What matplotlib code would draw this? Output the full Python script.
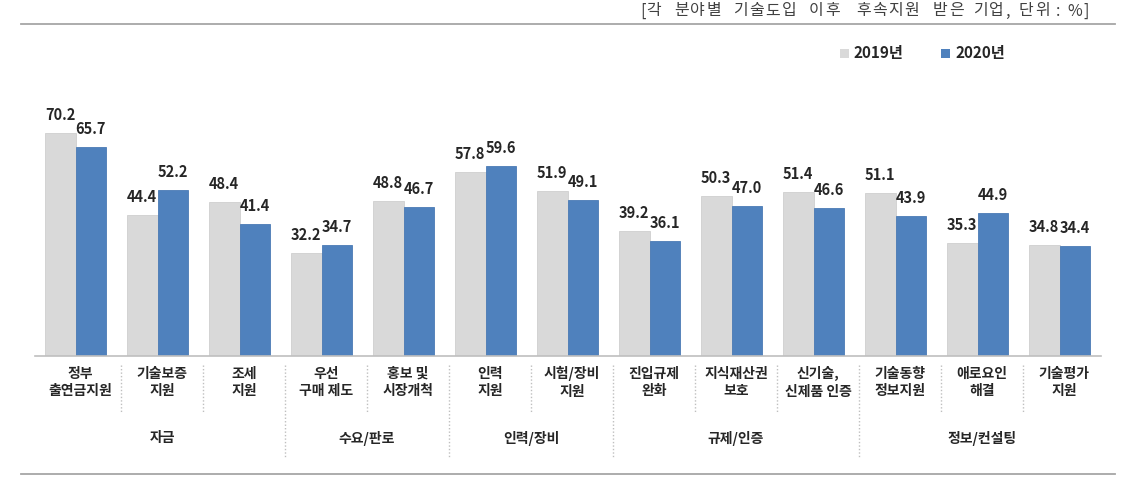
import matplotlib
matplotlib.use("Agg")
import matplotlib.pyplot as plt
from matplotlib.patches import Rectangle
from matplotlib.lines import Line2D

plt.rcParams['font.family'] = ['Noto Sans CJK KR', 'DejaVu Sans']

categories = ["정부\n출연금지원", "기술보증\n지원", "조세\n지원", "우선\n구매 제도", "홍보 및\n시장개척",
              "인력\n지원", "시험/장비\n지원", "진입규제\n완화", "지식재산권\n보호", "신기술,\n신제품 인증",
              "기술동향\n정보지원", "애로요인\n해결", "기술평가\n지원"]
v2019 = [70.2, 44.4, 48.4, 32.2, 48.8, 57.8, 51.9, 39.2, 50.3, 51.4, 51.1, 35.3, 34.8]
v2020 = [65.7, 52.2, 41.4, 34.7, 46.7, 59.6, 49.1, 36.1, 47.0, 46.6, 43.9, 44.9, 34.4]
groups = ["자금", "수요/판로", "인력/장비", "규제/인증", "정보/컨설팅"]
group_sizes = [3, 2, 2, 3, 3]
series_names = ["2019년", "2020년"]
note = "[각 분야별 기술도입 이후 후속지원 받은 기업, 단위 : %]"

W, H = 1136, 487
fig = plt.figure(figsize=(W / 100, H / 100), dpi=100)

def fx(px):
    return px / W

def fy(py):
    return 1 - py / H

ax_left, ax_right, ax_top, ax_bottom = 34.5, 1100.5, 90, 355.5
ax = fig.add_axes([fx(ax_left), fy(ax_bottom), fx(ax_right - ax_left), (ax_bottom - ax_top) / H])

c19 = "#D9D9D9"
c20 = "#4F81BD"
bw = 0.372
n = len(categories)
xs = list(range(n))
ax.bar([x - bw / 2 for x in xs], v2019, width=bw, color=c19, edgecolor="#CFCFCF", linewidth=0.6)
ax.bar([x + bw / 2 for x in xs], v2020, width=bw, color=c20, edgecolor="#4A7AB5", linewidth=0.6)
ax.set_xlim(-0.5, n - 0.5)
ax.set_ylim(0, 83.65)
for s in ["top", "right", "left"]:
    ax.spines[s].set_visible(False)
ax.spines["bottom"].set_color("#BFBFBF")
ax.spines["bottom"].set_linewidth(1.2)
ax.set_xticks([])
ax.set_yticks([])

for x, a, b in zip(xs, v2019, v2020):
    ax.annotate(f"{a:.1f}", (x - bw / 2, a), xytext=(0, 18), textcoords="offset pixels",
                ha="center", va="center", fontsize=10.5, fontweight="bold", color="#262626")
    ax.annotate(f"{b:.1f}", (x + bw / 2, b), xytext=(0, 18), textcoords="offset pixels",
                ha="center", va="center", fontsize=10.5, fontweight="bold", color="#262626")

# category labels and dividers
cat_w = (ax_right - ax_left) / n
label_off = 4.5

def xpix(xd):
    return ax_left + (xd + 0.5) * cat_w

for i, lab in enumerate(categories):
    fig.text(fx(xpix(i) + label_off), fy(382.5), lab, ha="center", va="center",
             fontsize=10, fontweight="bold", color="#262626", linespacing=1.3)

group_bounds = []
acc = 0
for g in group_sizes:
    acc += g
    group_bounds.append(acc)

for k in range(1, n):
    xp = xpix(k - 0.5) + label_off
    y_end = 458 if k in group_bounds else 412
    fig.add_artist(Line2D([fx(xp), fx(xp)], [fy(365), fy(y_end)], color="#BFBFBF",
                          linewidth=1.0, linestyle=(0, (1, 1.5))))

start = 0
for gname, g in zip(groups, group_sizes):
    center = start + (g - 1) / 2
    fig.text(fx(xpix(center) + label_off), fy(438), gname, ha="center", va="center",
             fontsize=10, fontweight="bold", color="#262626")
    start += g

# top and bottom rules
fig.add_artist(Line2D([fx(21), fx(1115)], [fy(24), fy(24)], color="#A6A6A6", linewidth=1.3))
fig.add_artist(Line2D([fx(21), fx(1115)], [fy(474), fy(474)], color="#A6A6A6", linewidth=1.3))

# note, character by character (wide letter spacing as in the reference)
note_words = note.split(" ")
note_x = [640, 673, 732, 808, 855, 932, 972, 1018, 1055, 1066]

def char_adv(ch):
    if '\uac00' <= ch <= '\ud7a3':
        return 16.3
    if ch == '%':
        return 17.0
    return 5.5

for wtxt, wx in zip(note_words, note_x):
    cx = wx
    for ch in wtxt:
        adv = char_adv(ch)
        fig.text(fx(cx + adv / 2), fy(11), ch, ha="center", va="center", fontsize=11.5, color="#404040")
        cx += adv

# legend
for (sx, tx), col, name in zip([(840, 853), (941, 955)], [c19, c20], series_names):
    fig.add_artist(Rectangle((fx(sx), fy(57.5)), fx(9), 9 / H, facecolor=col, edgecolor="none"))
    fig.text(fx(tx), fy(53), name, ha="left", va="center", fontsize=11, fontweight="bold", color="#262626")

fig.savefig("out.png", dpi=100)
